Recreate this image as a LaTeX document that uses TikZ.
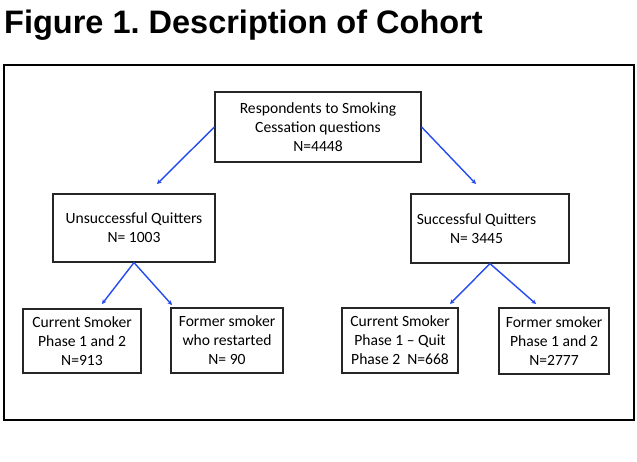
\documentclass[tikz,border=0pt]{standalone}
\usepackage{fontspec}
\setmainfont{Carlito}
\newfontfamily\titlefont{Liberation Sans}
\usetikzlibrary{arrows.meta}
\definecolor{arrblue}{RGB}{35,75,240}
\frenchspacing
\begin{document}
\begin{tikzpicture}[x=1pt,y=-1pt,
  box/.style={draw=black!85, line width=1.2pt, inner sep=0pt, align=center,
              font=\fontsize{15.6}{19}\selectfont},
  txt/.style={align=center, inner sep=0pt, font=\fontsize{15.6}{19}\selectfont},
  arr/.style={draw=arrblue, line width=1.4pt, -{Stealth[length=4.5pt,width=4.5pt]}}]
\useasboundingbox (0,0) rectangle (637,462);
\node[anchor=base west, inner sep=0pt,
      font=\titlefont\bfseries\fontsize{32.5}{36}\selectfont] (title) at (4,34)
      {Figure 1. Description of Cohort};
\node[draw=black, line width=2pt, minimum width=630pt, minimum height=355pt,
      inner sep=0pt, anchor=north west] (frame) at (3,64) {};
% boxes
\node[box, minimum width=206pt, minimum height=70pt] (top) at (318,127)
  {Respondents to Smoking\\Cessation questions\\N=4448};
\node[box, minimum width=162pt, minimum height=68pt] (uq) at (134,228)
  {Unsuccessful Quitters\\N= 1003};
\node[box, minimum width=158pt, minimum height=69pt] (sq) at (490,228.5) {};
\node[txt] (sqtext) at (476.5,228.5) {Successful Quitters\\N= 3445};
\node[box, minimum width=118pt, minimum height=64pt] (b1) at (82,341)
  {Current Smoker\\Phase 1 and 2\\N=913};
\node[box, minimum width=112pt, minimum height=65pt] (b2) at (227,340.5)
  {Former smoker\\who restarted\\N= 90};
\node[box, minimum width=116pt, minimum height=65pt] (b3) at (400,340.5)
  {Current Smoker\\Phase 1 -- Quit\\Phase 2\ \ N=668};
\node[box, minimum width=110pt, minimum height=66pt] (b4) at (554,341)
  {\raisebox{-2pt}{\parbox{110pt}{\centering Former smoker\\Phase 1 and 2\\N=2777}}};
% arrow tips
\coordinate (a1) at (157,184);
\coordinate (a2) at (476,184);
\coordinate (a3) at (102,304);
\coordinate (a4) at (172,305);
\coordinate (a5) at (450,304);
\coordinate (a6) at (536,304);
\draw[arr] (top.west) -- (a1);
\draw[arr] (top.east) -- (a2);
\draw[arr] (uq.south) -- (a3);
\draw[arr] (uq.south) -- (a4);
\draw[arr] (sq.south) -- (a5);
\draw[arr] (sq.south) -- (a6);
\end{tikzpicture}
\end{document}
